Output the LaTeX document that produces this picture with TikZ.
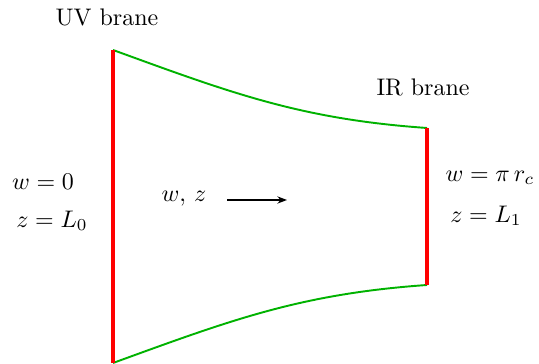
\documentclass[tikz,border=0pt]{standalone}
\usepackage{amsmath,amssymb}
\usetikzlibrary{arrows.meta,positioning}

\begin{document}
\begin{tikzpicture}[x=0.417pt, y=-0.417pt, every node/.style={font=\normalsize},
  brane/.style={red, line width=1.6pt},
  bulk/.style={green!70!black, line width=0.8pt}]
  \useasboundingbox (0,0) rectangle (539,364);
  \coordinate (uvtop) at (113,50);
  \coordinate (uvbot) at (113,363);
  \coordinate (irtop) at (427,128);
  \coordinate (irbot) at (427,285);
  % bulk boundary
  \draw[bulk] (uvtop) to[out=-20, in=176] (irtop);
  \draw[bulk] (uvbot) to[out=20, in=-176] (irbot);
  % the two branes
  \draw[brane] (uvtop) -- (uvbot);
  \draw[brane] (irtop) -- (irbot);
  \node (uvlab) at (107,17) {UV brane};
  \node (irlab) at (423,87) {IR brane};
  \node (uvw) at (43,182) {$w=0$};
  \node (uvz) at (52,221) {$z=L_0$};
  \node (irw) at (490,178) {$w=\pi\, r_c$};
  \node (irz) at (486,216) {$z=L_1$};
  \node (wz) at (184,199) {$w,\,z$};
  \coordinate (dirstart) at (227,200);
  \coordinate (dirend) at (287,200);
  \draw[-{Stealth[length=4pt]}, thick] (dirstart) -- (dirend);
\end{tikzpicture}
\end{document}
